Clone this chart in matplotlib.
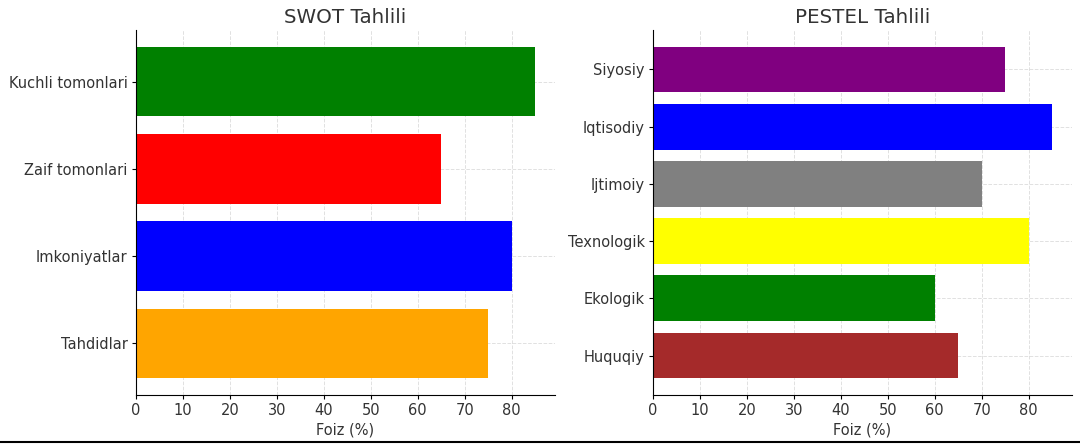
import matplotlib
matplotlib.use('Agg')
import matplotlib.pyplot as plt
from matplotlib.lines import Line2D

plt.rcParams['font.family'] = ['DejaVu Sans']

swot_labels = ['Kuchli tomonlari', 'Zaif tomonlari', 'Imkoniyatlar', 'Tahdidlar']
swot_values = [85, 65, 80, 75]
swot_colors = ['green', 'red', 'blue', 'orange']

pestel_labels = ['Siyosiy', 'Iqtisodiy', 'Ijtimoiy', 'Texnologik', 'Ekologik', 'Huquqiy']
pestel_values = [75, 85, 70, 80, 60, 65]
pestel_colors = ['purple', 'blue', 'gray', 'yellow', 'green', 'brown']

txt = '#333333'
W, H = 1080, 445

fig = plt.figure(figsize=(10.8, 4.45), dpi=100)
# axes boxes in pixels
ax1 = fig.add_axes([136 / W, 50 / H, 419 / W, 365 / H])
ax2 = fig.add_axes([653 / W, 50 / H, 419 / W, 365 / H])

def draw(ax, labels, values, colors, title):
    ax.barh(labels, values, color=colors, zorder=2)
    ax.invert_yaxis()
    ax.set_title(title, fontsize=14.3, color=txt, pad=5)
    ax.set_xlabel('Foiz (%)', fontsize=10.5, color=txt, labelpad=3)
    ax.grid(True, linestyle='--', color='lightgray', linewidth=0.7, alpha=0.7, zorder=0)
    ax.set_axisbelow(True)
    ax.spines['top'].set_visible(False)
    ax.spines['right'].set_visible(False)
    ax.tick_params(length=3, width=0.8, labelsize=10.5, labelcolor=txt, pad=3)
    ax.set_xticks(range(0, 90, 10))

draw(ax1, swot_labels, swot_values, swot_colors, 'SWOT Tahlili')
draw(ax2, pestel_labels, pestel_values, pestel_colors, 'PESTEL Tahlili')

fig.add_artist(Line2D([0, 1], [0.007, 0.007], color='black', linewidth=1.5, transform=fig.transFigure))

plt.savefig('out.png', dpi=100)
